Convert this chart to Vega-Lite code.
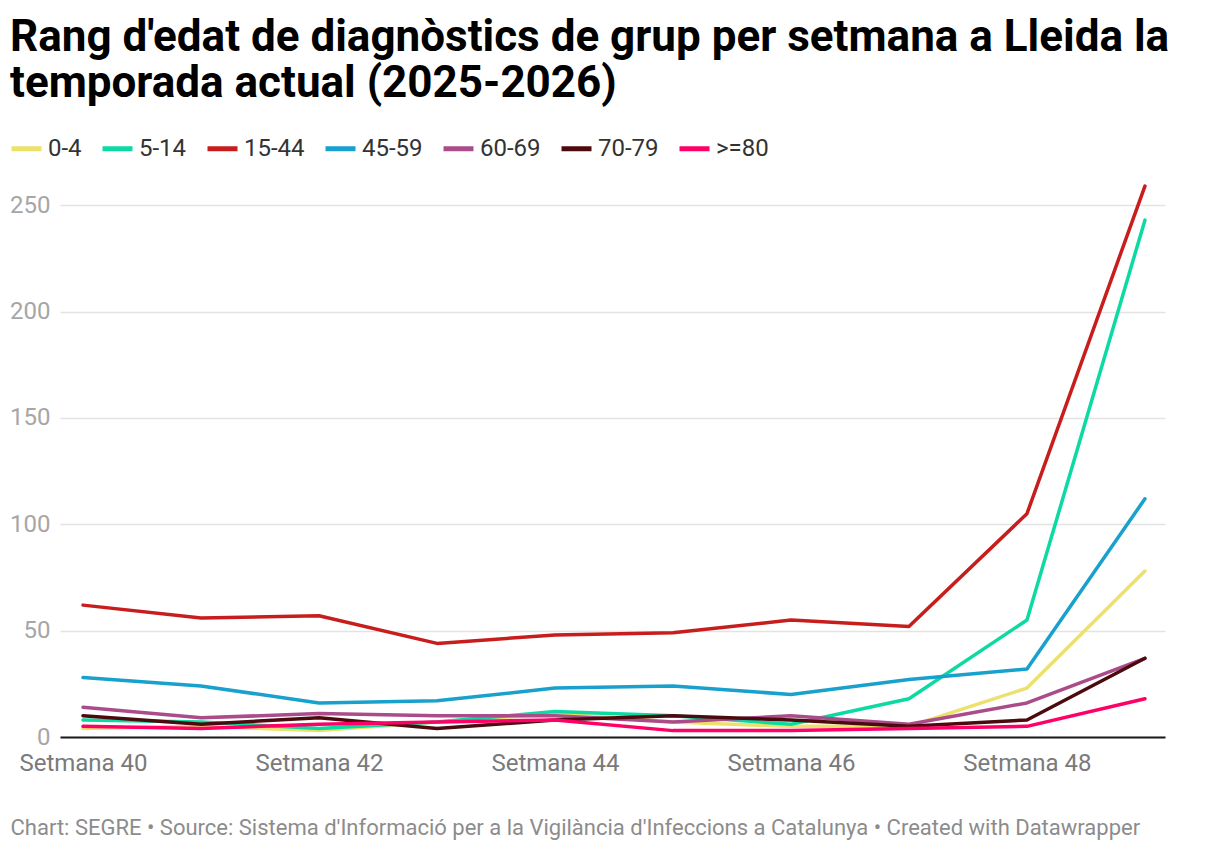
{
  "$schema": "https://vega.github.io/schema/vega-lite/v6.json",
  "width": 1105,
  "height": 553,
  "autosize": {"type": "none"},
  "padding": {"left": 60, "top": 184, "right": 55, "bottom": 117},
  "background": "white",
  "title": {
    "text": ["Rang d'edat de diagnòstics de grup per setmana a Lleida la", "temporada actual (2025-2026)"],
    "anchor": "start",
    "frame": "group",
    "orient": "top",
    "dx": -50,
    "offset": 25,
    "font": "Roboto",
    "fontSize": 44,
    "fontWeight": "bold",
    "color": "#000000",
    "lineHeight": 46
  },
  "config": {
    "view": {"stroke": null},
    "font": "Roboto"
  },
  "data": {
    "values": [
      {"week": 40, "group": "0-4", "value": 4},
      {"week": 41, "group": "0-4", "value": 5},
      {"week": 42, "group": "0-4", "value": 3},
      {"week": 43, "group": "0-4", "value": 7},
      {"week": 44, "group": "0-4", "value": 11},
      {"week": 45, "group": "0-4", "value": 7},
      {"week": 46, "group": "0-4", "value": 5},
      {"week": 47, "group": "0-4", "value": 5},
      {"week": 48, "group": "0-4", "value": 23},
      {"week": 49, "group": "0-4", "value": 78},
      {"week": 40, "group": "5-14", "value": 8},
      {"week": 41, "group": "5-14", "value": 7},
      {"week": 42, "group": "5-14", "value": 4},
      {"week": 43, "group": "5-14", "value": 7},
      {"week": 44, "group": "5-14", "value": 12},
      {"week": 45, "group": "5-14", "value": 10},
      {"week": 46, "group": "5-14", "value": 6},
      {"week": 47, "group": "5-14", "value": 18},
      {"week": 48, "group": "5-14", "value": 55},
      {"week": 49, "group": "5-14", "value": 243},
      {"week": 40, "group": "15-44", "value": 62},
      {"week": 41, "group": "15-44", "value": 56},
      {"week": 42, "group": "15-44", "value": 57},
      {"week": 43, "group": "15-44", "value": 44},
      {"week": 44, "group": "15-44", "value": 48},
      {"week": 45, "group": "15-44", "value": 49},
      {"week": 46, "group": "15-44", "value": 55},
      {"week": 47, "group": "15-44", "value": 52},
      {"week": 48, "group": "15-44", "value": 105},
      {"week": 49, "group": "15-44", "value": 259},
      {"week": 40, "group": "45-59", "value": 28},
      {"week": 41, "group": "45-59", "value": 24},
      {"week": 42, "group": "45-59", "value": 16},
      {"week": 43, "group": "45-59", "value": 17},
      {"week": 44, "group": "45-59", "value": 23},
      {"week": 45, "group": "45-59", "value": 24},
      {"week": 46, "group": "45-59", "value": 20},
      {"week": 47, "group": "45-59", "value": 27},
      {"week": 48, "group": "45-59", "value": 32},
      {"week": 49, "group": "45-59", "value": 112},
      {"week": 40, "group": "60-69", "value": 14},
      {"week": 41, "group": "60-69", "value": 9},
      {"week": 42, "group": "60-69", "value": 11},
      {"week": 43, "group": "60-69", "value": 10},
      {"week": 44, "group": "60-69", "value": 10},
      {"week": 45, "group": "60-69", "value": 7},
      {"week": 46, "group": "60-69", "value": 10},
      {"week": 47, "group": "60-69", "value": 6},
      {"week": 48, "group": "60-69", "value": 16},
      {"week": 49, "group": "60-69", "value": 37},
      {"week": 40, "group": "70-79", "value": 10},
      {"week": 41, "group": "70-79", "value": 6},
      {"week": 42, "group": "70-79", "value": 9},
      {"week": 43, "group": "70-79", "value": 4},
      {"week": 44, "group": "70-79", "value": 8},
      {"week": 45, "group": "70-79", "value": 10},
      {"week": 46, "group": "70-79", "value": 8},
      {"week": 47, "group": "70-79", "value": 5},
      {"week": 48, "group": "70-79", "value": 8},
      {"week": 49, "group": "70-79", "value": 37},
      {"week": 40, "group": ">=80", "value": 5},
      {"week": 41, "group": ">=80", "value": 4},
      {"week": 42, "group": ">=80", "value": 6},
      {"week": 43, "group": ">=80", "value": 7},
      {"week": 44, "group": ">=80", "value": 8},
      {"week": 45, "group": ">=80", "value": 3},
      {"week": 46, "group": ">=80", "value": 3},
      {"week": 47, "group": ">=80", "value": 4},
      {"week": 48, "group": ">=80", "value": 5},
      {"week": 49, "group": ">=80", "value": 18}
    ]
  },
  "mark": {"type": "line", "strokeWidth": 3.5, "strokeCap": "round", "strokeJoin": "round"},
  "encoding": {
    "x": {
      "field": "week",
      "type": "quantitative",
      "scale": {"domain": [39.805, 49.17], "nice": false, "zero": false},
      "axis": {
        "values": [40, 42, 44, 46, 48],
        "labelExpr": "'Setmana ' + datum.value",
        "grid": false,
        "ticks": false,
        "domain": true,
        "domainColor": "#1a1a1a",
        "domainWidth": 2,
        "labelFont": "Roboto",
        "labelFontSize": 24,
        "labelColor": "#7a7a7a",
        "labelPadding": 14,
        "labelFlush": false,
        "labelOverlap": false,
        "title": "Chart: SEGRE • Source: Sistema d'Informació per a la Vigilància d'Infeccions a Catalunya • Created with Datawrapper",
        "titleFont": "Roboto",
        "titleFontSize": 22,
        "titleFontWeight": "normal",
        "titleColor": "#8c8c8c",
        "titleAnchor": "start",
        "titleAlign": "left",
        "titleBaseline": "alphabetic",
        "titleX": -50,
        "titleY": 97
      }
    },
    "y": {
      "field": "value",
      "type": "quantitative",
      "scale": {"domain": [0, 260], "nice": false},
      "axis": {
        "values": [0, 50, 100, 150, 200, 250],
        "grid": true,
        "gridColor": "#e3e3e3",
        "gridWidth": 1.5,
        "domain": false,
        "ticks": false,
        "labelFont": "Roboto",
        "labelFontSize": 24,
        "labelColor": "#a6a6a6",
        "labelPadding": 10,
        "title": null
      }
    },
    "color": {
      "field": "group",
      "type": "nominal",
      "sort": ["0-4", "5-14", "15-44", "45-59", "60-69", "70-79", ">=80"],
      "scale": {
        "domain": ["0-4", "5-14", "15-44", "45-59", "60-69", "70-79", ">=80"],
        "range": ["#ebe16c", "#0dd9a3", "#c71e1d", "#18a1cd", "#ab4c8a", "#4a0a0e", "#ff0067"]
      },
      "legend": {
        "orient": "none",
        "legendX": -51,
        "legendY": -53,
        "direction": "horizontal",
        "columns": 7,
        "title": null,
        "symbolType": "stroke",
        "symbolSize": 900,
        "symbolStrokeWidth": 5,
        "labelFont": "Roboto",
        "labelFontSize": 24,
        "labelColor": "#333333",
        "labelOffset": 4,
        "columnPadding": 10,
        "padding": 0
      }
    }
  }
}
